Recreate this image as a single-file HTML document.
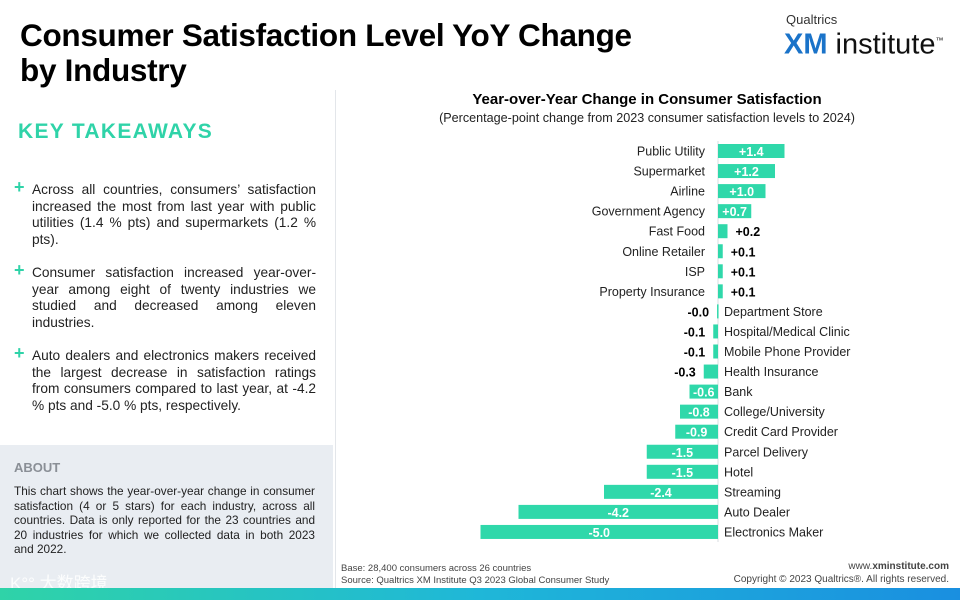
<!DOCTYPE html>
<html><head><meta charset="utf-8"><style>
body{margin:0;width:960px;height:600px;overflow:hidden;background:#fff;font-family:"Liberation Sans",sans-serif;position:relative}
.abs{position:absolute}
h1{position:absolute;left:20px;top:18px;margin:0;font-size:31.5px;line-height:35px;font-weight:900;color:#000;letter-spacing:-0.3px}
.kt{left:18px;top:120px;color:#2fd3a8;font-size:21px;font-weight:bold;letter-spacing:1.3px}
.bul{left:14px;width:302px;font-size:13.7px;line-height:16.6px;color:#222;text-align:justify}
.bul span.p{position:absolute;left:0;top:-3px;color:#2fd3a8;font-size:18px;font-weight:bold}
.bul div{margin-left:18px}
</style></head><body>
<h1>Consumer Satisfaction Level YoY Change<br>by Industry</h1>
<div class="abs" style="left:784px;top:12px;width:170px">
<div style="font-size:13px;color:#333;padding-left:2px">Qualtrics</div>
<div style="font-size:29px;line-height:27px;color:#111"><b style="color:#1a73c9">XM</b> institute<sup style="font-size:8px">™</sup></div></div>
<div class="abs kt">KEY TAKEAWAYS</div>
<div class="abs bul" style="top:182px"><span class="p">+</span><div>Across all countries, consumers’ satisfaction increased the most from last year with public utilities (1.4 % pts) and supermarkets (1.2 % pts).</div></div>
<div class="abs bul" style="top:265px"><span class="p">+</span><div>Consumer satisfaction increased year-over-year among eight of twenty industries we studied and decreased among eleven industries.</div></div>
<div class="abs bul" style="top:348px"><span class="p">+</span><div>Auto dealers and electronics makers received the largest decrease in satisfaction ratings from consumers compared to last year, at -4.2 % pts and -5.0 % pts, respectively.</div></div>
<div class="abs" style="left:0;top:445px;width:333px;height:143px;background:#e9edf2">
<div style="position:absolute;left:14px;top:15px;font-weight:bold;color:#8a8f96;font-size:13px">ABOUT</div>
<div style="position:absolute;left:14px;top:39px;width:301px;font-size:11.8px;line-height:14.5px;color:#222;text-align:justify">This chart shows the year-over-year change in consumer satisfaction (4 or 5 stars) for each industry, across all countries. Data is only reported for the 23 countries and 20 industries for which we collected data in both 2023 and 2022.</div>
<div style="position:absolute;left:10px;top:124px;font-size:17px;color:#fff;font-family:'Liberation Sans','Noto Sans CJK SC',sans-serif;opacity:.9">K°° 大数跨境</div>
</div>
<div class="abs" style="left:335px;top:90px;width:1px;height:498px;background:#e3e6ea"></div>
<div class="abs" style="left:340px;top:91px;width:614px;text-align:center;font-weight:bold;font-size:15px">Year-over-Year Change in Consumer Satisfaction</div>
<div class="abs" style="left:340px;top:111px;width:614px;text-align:center;font-size:12.6px;color:#222">(Percentage-point change from 2023 consumer satisfaction levels to 2024)</div>
<svg class="abs" style="left:0;top:0" width="960" height="600" id="chart"></svg>
<div class="abs" style="left:341px;top:563px;font-size:9.5px;line-height:11.5px;color:#444">Base: 28,400 consumers across 26 countries<br>Source: Qualtrics XM Institute Q3 2023 Global Consumer Study</div>
<div class="abs" style="right:11px;top:561px;font-size:10px;line-height:12.5px;color:#444;text-align:right">www.<b>xminstitute.com</b><br>Copyright © 2023 Qualtrics®. All rights reserved.</div>
<div class="abs" style="left:0;top:588px;width:960px;height:12px;background:linear-gradient(90deg,#2fd3a8,#1fb7d8 50%,#1a8fe0)"></div>
<script>
const categories=["Public Utility","Supermarket","Airline","Government Agency","Fast Food","Online Retailer","ISP","Property Insurance","Department Store","Hospital/Medical Clinic","Mobile Phone Provider","Health Insurance","Bank","College/University","Credit Card Provider","Parcel Delivery","Hotel","Streaming","Auto Dealer","Electronics Maker"];
const values=[1.4,1.2,1.0,0.7,0.2,0.1,0.1,0.1,-0.02,-0.1,-0.1,-0.3,-0.6,-0.8,-0.9,-1.5,-1.5,-2.4,-4.2,-5.0];
const valueLabels=["+1.4","+1.2","+1.0","+0.7","+0.2","+0.1","+0.1","+0.1","-0.0","-0.1","-0.1","-0.3","-0.6","-0.8","-0.9","-1.5","-1.5","-2.4","-4.2","-5.0"];
const svg=document.getElementById('chart');const NS='http://www.w3.org/2000/svg';
const x0=718,k=47.5,y0=151,step=20.05,bh=14;
const xs=v=>x0+v*k, ys=i=>y0+i*step;
function mk(t,a){const e=document.createElementNS(NS,t);for(const n in a)e.setAttribute(n,a[n]);svg.appendChild(e);return e;}
const ax=mk('line',{x1:x0,x2:x0,y1:141,y2:542,stroke:'#d8dce0','stroke-width':1});


values.forEach((v,i)=>{
 const y=ys(i);const a=Math.min(xs(0),xs(v)),w=Math.max(Math.abs(xs(v)-xs(0)),1.5);
 const r=mk('rect',{x:a,y:y-bh/2,width:w,height:bh,fill:'#2fd8aa'});
 
 
 const pos=v>=0;
 const c=mk('text',{x:pos?x0-13:x0+6,y:y+4.5,'font-size':12.5,fill:'#222','text-anchor':pos?'end':'start'});
 c.textContent=categories[i];
 
 
 const inside=Math.abs(v)>=0.6;let lx,anc,fill;
 if(inside){lx=(xs(v)+xs(0))/2;anc='middle';fill='#fff';}
 else if(pos){lx=xs(v)+8;anc='start';fill='#000';}
 else{lx=xs(v)-8;anc='end';fill='#000';}
 const t=mk('text',{x:lx,y:y+5,'font-size':12.5,'font-weight':'bold',fill:fill,'text-anchor':anc});
 t.textContent=valueLabels[i];
 
 
});
</script>
</body></html>
